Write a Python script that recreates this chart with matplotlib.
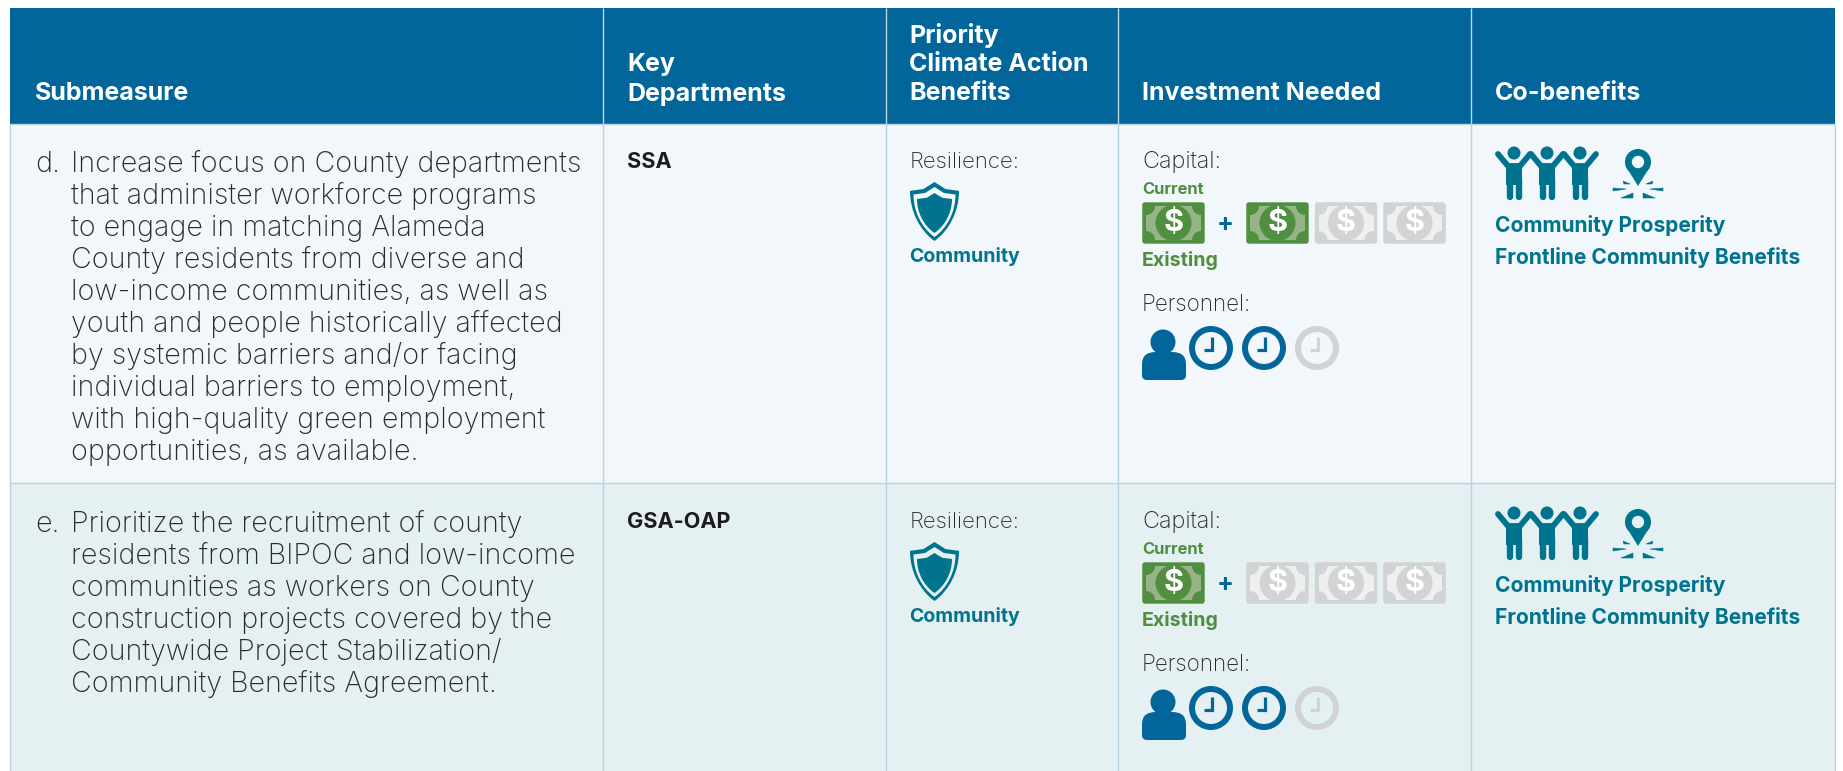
import matplotlib
matplotlib.use("Agg")
import matplotlib.pyplot as plt
from matplotlib.patches import Rectangle, Circle, FancyBboxPatch, PathPatch, Polygon
from matplotlib.path import Path

headers = ["Submeasure", "Key\nDepartments", "Priority\nClimate Action\nBenefits", "Investment Needed", "Co-benefits"]
row_letters = ["d.", "e."]
row_text = [
    ["Increase focus on County departments", "that administer workforce programs",
     "to engage in matching Alameda", "County residents from diverse and",
     "low-income communities, as well as", "youth and people historically affected",
     "by systemic barriers and/or facing", "individual barriers to employment,",
     "with high-quality green employment", "opportunities, as available."],
    ["Prioritize the recruitment of county", "residents from BIPOC and low-income",
     "communities as workers on County", "construction projects covered by the",
     "Countywide Project Stabilization/", "Community Benefits Agreement."],
]
departments = ["SSA", "GSA-OAP"]
resilience = ["Community", "Community"]
capital_current = [1, 1]
capital_existing = [1, 0]
capital_existing_total = 3
personnel_hours = [2, 2]
personnel_total = 3
cobenefits = ["Community Prosperity", "Frontline Community Benefits"]

BLUE = "#02669A"; TEAL = "#00748F"; GREEN = "#4F8F3F"; LGREEN = "#96B487"
GRAY = "#D1D3D4"; LGRAY = "#EEEFEF"; INK = "#2A2A2A"; LINE = "#B9D3E0"
ROW_BG = ["#F1F7FA", "#E5F0F3"]
FONT = "Inter"

fig = plt.figure(figsize=(18.43, 7.71), dpi=100, facecolor="white")
ax = fig.add_axes([0, 0, 1, 1])
ax.set_xlim(0, 1843); ax.set_ylim(771, 0); ax.axis("off")

col_x = [10, 603, 886, 1118, 1471, 1835]
row_y = [124, 483, 771]
ax.add_patch(Rectangle((10, 8), 1825, 116, fc=BLUE, ec="none"))
for i in range(2):
    ax.add_patch(Rectangle((10, row_y[i]), 1825, row_y[i+1]-row_y[i], fc=ROW_BG[i], ec="none"))
for x in col_x[1:-1]:
    ax.plot([x, x], [8, 124], color="#BFD6E3", lw=1.0, solid_capstyle="butt")
    ax.plot([x, x], [124, 771], color=LINE, lw=1.0, solid_capstyle="butt")
for x in (col_x[0], col_x[-1]):
    ax.plot([x, x], [124, 771], color=LINE, lw=1.0, solid_capstyle="butt")
for y in row_y[:2]:
    ax.plot([10, 1835], [y, y], color=LINE, lw=1.0, solid_capstyle="butt")

def T(x, y, s, size=20.6, color=INK, weight="light", **kw):
    ax.text(x, y + 2, s, fontsize=size, color=color, family=FONT, weight=weight,
            va="center", ha=kw.pop("ha", "left"), **kw)

head_x = [35, 627, 909, 1142, 1495]
for x, h in zip(head_x, headers):
    for k, line in enumerate(reversed(h.split("\n"))):
        T(x, 92 - k*29.5, line, size=18, color="white", weight="bold")

def cash(x, y, on):
    dark, light = (GREEN, LGREEN) if on else (GRAY, LGRAY)
    w, h = 63, 42
    ax.add_patch(FancyBboxPatch((x+1, y+1), w-2, h-2, boxstyle="round,pad=0,rounding_size=2", fc=dark, ec=dark, lw=1))
    band = Rectangle((x+4, y+4), w-8, h-8, fc=light, ec="none")
    ax.add_patch(band)
    for cx in (x+4, x+w-4):
        for cy in (y+4, y+h-4):
            corner = Circle((cx, cy), 9, fc=dark, ec="none")
            ax.add_patch(corner)
            corner.set_clip_path(band)
    ax.add_patch(Circle((x+w/2, y+h/2), 18, fc=dark, ec="none"))
    ax.text(x+w/2, y+h/2-0.5, r"\$", color="white", fontsize=22, family=FONT, weight="bold", ha="center", va="center")

def clock(cx, cy, on):
    c = BLUE if on else GRAY
    ax.add_patch(Circle((cx, cy), 19, fc="none", ec=c, lw=4.3))
    ax.plot([cx+1, cx+1, cx-7], [cy-11, cy+2, cy+2], color=c, lw=2.3, solid_joinstyle="miter", solid_capstyle="butt")

def person(x, y):
    ax.add_patch(Circle((x+21, y), 12.5, fc=BLUE, ec="none"))
    l, r, t, b = x, x+44, y+10, y+38
    v = [(l, b-5), (l, t+12), (l, t), (l+14, t), (r-14, t), (r, t), (r, t+12), (r, b-5), (r, b), (r-5, b),
         (l+5, b), (l, b), (l, b-5), (l, b-5)]
    codes = [Path.MOVETO, Path.LINETO, Path.CURVE3, Path.CURVE3, Path.LINETO, Path.CURVE3, Path.CURVE3,
             Path.LINETO, Path.CURVE3, Path.CURVE3, Path.LINETO, Path.CURVE3, Path.CURVE3, Path.CLOSEPOLY]
    ax.add_patch(PathPatch(Path(v, codes), fc=BLUE, ec="none"))

def shield(cx, top, hw, h, **kw):
    v = [(cx, top), (cx+hw*0.45, top+h*0.12), (cx+hw, top+h*0.15), (cx+hw, top+h*0.5), (cx+hw*0.6, top+h*0.82), (cx, top+h),
         (cx-hw*0.6, top+h*0.82), (cx-hw, top+h*0.5), (cx-hw, top+h*0.15), (cx-hw*0.45, top+h*0.12), (cx, top), (cx, top)]
    codes = [Path.MOVETO, Path.LINETO, Path.LINETO, Path.CURVE4, Path.CURVE4, Path.CURVE4,
             Path.CURVE4, Path.CURVE4, Path.LINETO, Path.LINETO, Path.LINETO, Path.CLOSEPOLY]
    ax.add_patch(PathPatch(Path(v, codes), **kw))

def people(x0, y):
    for cx in (x0, x0+33, x0+66):
        ax.add_patch(Circle((cx, y), 6.5, fc=TEAL, ec="none"))
        ax.add_patch(Rectangle((cx-8, y+11), 16, 21, fc=TEAL, ec="none"))
        for dx in (-4.5, 4.5):
            ax.plot([cx+dx, cx+dx], [y+25, y+44], color=TEAL, lw=4.6, solid_capstyle="round")
        ax.plot([cx-16, cx-6, cx+6, cx+16], [y+1, y+13, y+13, y+1], color=TEAL, lw=4.2,
                solid_capstyle="round", solid_joinstyle="round")

def pin(cx, cy, bg):
    ax.add_patch(Circle((cx, cy), 13, fc=TEAL, ec="none"))
    ax.add_patch(Polygon([(cx-12.3, cy+4), (cx+12.3, cy+4), (cx, cy+24)], fc=TEAL, ec="none"))
    ax.add_patch(Circle((cx, cy), 6.2, fc=bg, ec="none"))
    rays = [[(-15, 19), (-8, 22), (-14, 22)], [(15, 19), (8, 22), (14, 22)],
            [(-25, 26), (-12, 27), (-25, 29)], [(25, 26), (12, 27), (25, 29)],
            [(-17, 36), (-5, 31), (-5, 36)], [(17, 36), (5, 31), (5, 36)]]
    for r in rays:
        ax.add_patch(Polygon([(cx+a, cy+b) for a, b in r], fc=TEAL, ec=TEAL, lw=0.4))

for i, off in enumerate((0, 360)):
    T(35, 162+off, row_letters[i])
    for k, line in enumerate(row_text[i]):
        T(71, 162+off+k*32, line)
    T(627, 160.5+off, departments[i], size=15.6, color="#1C1C1C", weight="bold")
    T(910, 160+off, "Resilience:", size=16)
    shield(934.5, 182+off, 24.5, 59, fc=TEAL, ec="none")
    shield(934.5, 187+off, 21, 50, fc=ROW_BG[i], ec="none")
    shield(934.5, 193+off, 17.5, 40, fc=TEAL, ec="none")
    T(909, 255+off, resilience[i], size=14, color=TEAL, weight="bold")

    T(1142, 160+off, "Capital:", size=16.9)
    T(1142, 188+off, "Current", size=11.9, color=GREEN, weight="bold")
    cash(1142, 202+off, capital_current[i] > 0)
    T(1225, 222+off, "+", size=18, color=BLUE, weight="bold", ha="center")
    for k in range(capital_existing_total):
        cash(1246+k*68.5, 202+off, k < capital_existing[i])
    T(1142, 259+off, "Existing", size=14.1, color=GREEN, weight="bold")
    T(1142, 303+off, "Personnel:", size=16.1)
    person(1142, 342+off)
    for k in range(personnel_total):
        clock(1211+k*53, 348+off, k < personnel_hours[i])

    people(1514, 153+off)
    pin(1638, 162+off, ROW_BG[i])
    T(1495, 224+off, cobenefits[0], size=15.1, color=TEAL, weight="bold")
    T(1495, 256+off, cobenefits[1], size=15.1, color=TEAL, weight="bold")

fig.savefig("out.png", dpi=100)
